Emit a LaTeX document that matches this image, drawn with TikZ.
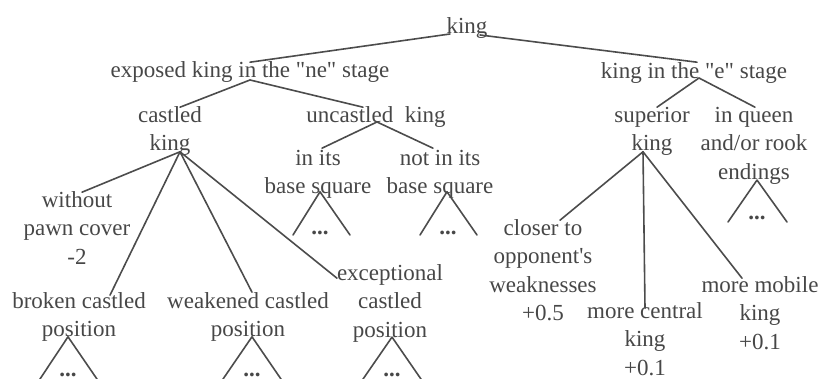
\documentclass[tikz,border=0pt]{standalone}
\usepackage{fontspec}
\setmainfont{Liberation Serif}[Ligatures=TeXOff]
\usetikzlibrary{calc}
\newcommand\lines[1]{\begin{tabular}{@{}c@{}}\rule{0pt}{20.3pt}#1\end{tabular}}
\tikzset{
  lbl/.style={anchor=north, inner sep=0pt, outer sep=0pt,
    text=black!72, font=\fontsize{23}{28.3}\selectfont},
  dots/.style={anchor=base, inner sep=0pt, text=black!72, font=\fontsize{23}{28.3}\selectfont\bfseries},
  link/.style={draw=black!70, line width=1.6pt, line join=round, line cap=round}
}
\begin{document}
\begin{tikzpicture}[x=1pt,y=-1pt]
\useasboundingbox (0,0) rectangle (818,379);
% nodes
\node[lbl] (king) at (467,13.2) {\lines{king}};
\node[lbl] (exposed) at (250,57.2) {\lines{exposed king in the "ne" stage}};
\node[lbl] (estage) at (694,58.2) {\lines{king in the "e" stage}};
\node[lbl] (castled) at (170,102.2) {\lines{castled\\king}};
\node[lbl] (uncastled) at (376,102.2) {\lines{uncastled\ \ king}};
\node[lbl] (inits) at (318,145.2) {\lines{in its\\base square}};
\node[lbl] (notinits) at (440,145.2) {\lines{not in its\\base square}};
\node[lbl] (superior) at (652,102.2) {\lines{superior\\king}};
\node[lbl] (queen) at (754,102.2) {\lines{in queen\\and/or rook\\endings}};
\node[lbl] (without) at (77,187.2) {\lines{without\\pawn cover\\-2}};
\node[lbl] (broken) at (79,288.2) {\lines{broken castled\\position}};
\node[lbl] (weakened) at (248,288.2) {\lines{weakened castled\\position}};
\node[lbl] (exceptional) at (390,260.2) {\lines{exceptional\\castled\\position}};
\node[lbl] (closer) at (543,215.2) {\lines{closer to\\opponent's\\weaknesses\\+0.5}};
\node[lbl] (central) at (645,298.2) {\lines{more central\\king\\+0.1}};
\node[lbl] (mobile) at (760,272.2) {\lines{more mobile\\king\\+0.1}};
% subtree dots
\node[dots] (d1) at (320,234) {...};
\node[dots] (d2) at (448,234) {...};
\node[dots] (d3) at (757,220) {...};
\node[dots] (d4) at (68,376) {...};
\node[dots] (d5) at (252,376) {...};
\node[dots] (d6) at (392,376) {...};
% triangle feet
\coordinate (t1l) at (293,235); \coordinate (t1r) at (350,235);
\coordinate (t2l) at (420,235); \coordinate (t2r) at (477,235);
\coordinate (t3l) at (728,222); \coordinate (t3r) at (787,222);
\coordinate (t4l) at (38,382); \coordinate (t4r) at (99,382);
\coordinate (t5l) at (221,382); \coordinate (t5r) at (283,382);
\coordinate (t6l) at (361,382); \coordinate (t6r) at (423,382);
% edges
\draw[link] ($(king.south)+(-17,-8)$) -- ($(exposed.north)+(0,5)$);
\draw[link] ($(king.south)+(13,-7)$) -- ($(estage.north)+(3,4)$);
\draw[link] ($(exposed.south)+(0,-6)$) -- ($(castled.north)+(10,5)$);
\draw[link] ($(exposed.south)+(0,-6)$) -- ($(uncastled.north)+(-13,5)$);
\draw[link] ($(uncastled.south)+(1,-9)$) -- ($(inits.north)+(4,3)$);
\draw[link] ($(uncastled.south)+(1,-9)$) -- ($(notinits.north)+(-7,3)$);
\draw[link] ($(castled.south)+(10,-7.5)$) -- ($(without.north)+(5,5)$);
\draw[link] ($(castled.south)+(10,-7.5)$) -- ($(broken.north)+(31,7)$);
\draw[link] ($(castled.south)+(10,-7.5)$) -- ($(weakened.north)+(4,4)$);
\draw[link] ($(castled.south)+(10,-7.5)$) -- ($(exceptional.north west)+(0,18)$);
\draw[link] ($(estage.south)+(5,-9)$) -- ($(superior.north)+(5,5)$);
\draw[link] ($(estage.south)+(5,-9)$) -- ($(queen.north)+(1,5)$);
\draw[link] ($(superior.south)+(-9,-7.5)$) -- ($(closer.north)+(17,5)$);
\draw[link] ($(superior.south)+(-9,-7.5)$) -- ($(central.north)+(0,10)$);
\draw[link] ($(superior.south)+(-9,-7.5)$) -- ($(mobile.north)+(-18,6)$);
% subtree triangles
\draw[link] (t1l) -- ($(inits.south)+(2,-10.5)$) -- (t1r);
\draw[link] (t2l) -- ($(notinits.south)+(7,-10.5)$) -- (t2r);
\draw[link] (t3l) -- ($(queen.south)+(3,-7.5)$) -- (t3r);
\draw[link] (t4l) -- ($(broken.south)+(-11,-8.5)$) -- (t4r);
\draw[link] (t5l) -- ($(weakened.south)+(4,-8.5)$) -- (t5r);
\draw[link] (t6l) -- ($(exceptional.south)+(2,-8.5)$) -- (t6r);
\end{tikzpicture}
\end{document}
